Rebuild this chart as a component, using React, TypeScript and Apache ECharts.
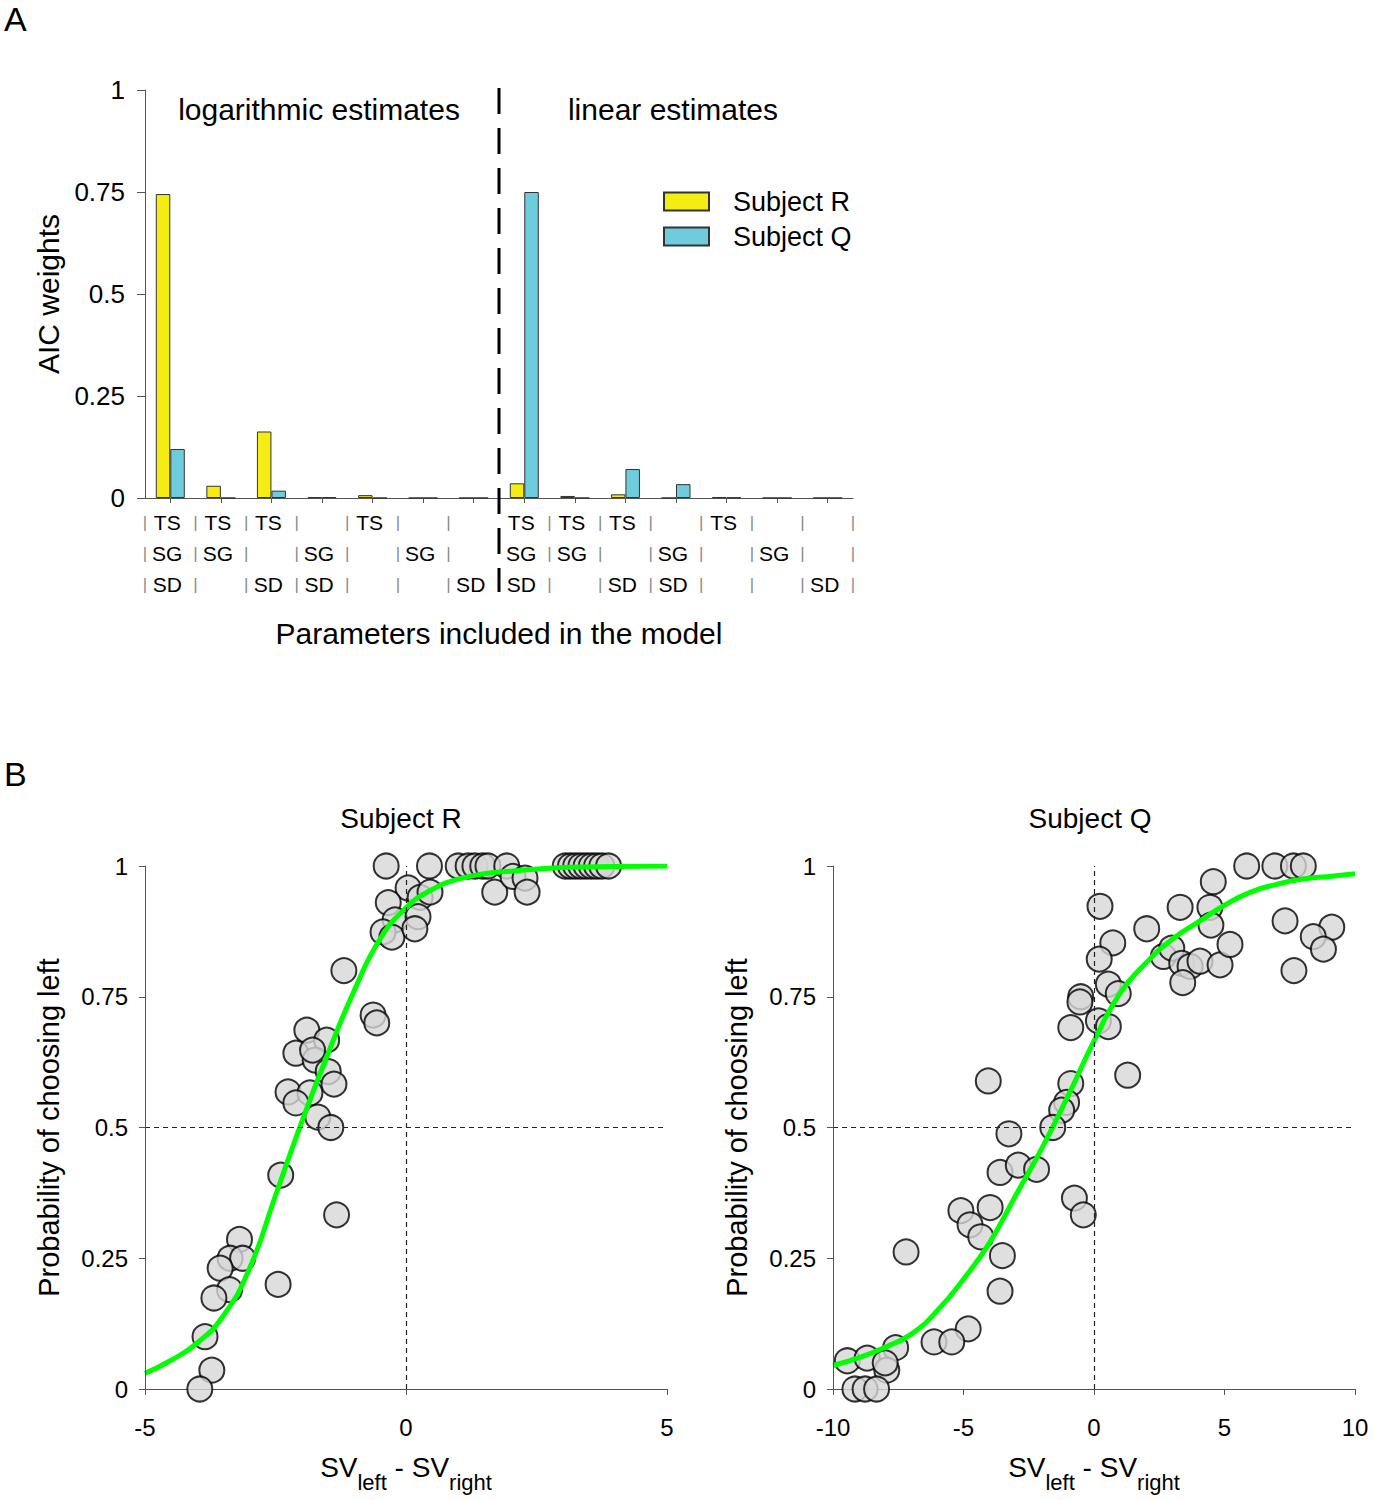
import React, { useEffect, useRef } from "react";
import * as echarts from "echarts";

const FONT = '"Liberation Sans", Arial, Helvetica, sans-serif';
const AX = "#555555";

// Panel A: models (parameters included), AIC weights
const modelParams: string[][] = [
  ["TS", "SG", "SD"],
  ["TS", "SG"],
  ["TS", "SD"],
  ["SG", "SD"],
  ["TS"],
  ["SG"],
  ["SD"],
];
const categories = [
  ...modelParams.map((m) => "log " + m.join(" ")),
  ...modelParams.map((m) => "lin " + m.join(" ")),
];
const categoryParams = [...modelParams, ...modelParams];
const aicSubjectR = [0.745, 0.03, 0.163, 0.002, 0.007, 0, 0, 0.036, 0.005, 0.009, 0, 0.002, 0, 0];
const aicSubjectQ = [0.12, 0, 0.018, 0.002, 0, 0, 0, 0.75, 0, 0.071, 0.034, 0.001, 0, 0];
const paramRows = ["TS", "SG", "SD"];
const yTicksA = [0, 0.25, 0.5, 0.75, 1];

// Panel B: Subject R (x: SVleft - SVright, y: probability of choosing left)
const pointsR: [number, number][] = [
  [-0.38, 1.0], [0.45, 1.0], [1.0, 1.0], [1.19, 1.0], [1.32, 1.0], [1.47, 1.0], [1.57, 1.0], [1.93, 1.0],
  [1.7, 0.95], [2.05, 0.98], [2.28, 0.977], [2.32, 0.95],
  [3.05, 1], [3.15, 1], [3.25, 1], [3.35, 1], [3.45, 1], [3.55, 1], [3.65, 1], [3.75, 1], [3.88, 1],
  [0.04, 0.958], [0.27, 0.94], [0.46, 0.95], [-0.34, 0.93], [-0.21, 0.897], [0.23, 0.903],
  [-0.44, 0.874], [-0.27, 0.864], [0.17, 0.88],
  [-1.19, 0.8], [-0.63, 0.715], [-0.56, 0.7], [-1.9, 0.686], [-1.52, 0.667], [-2.11, 0.642],
  [-1.74, 0.629], [-1.79, 0.648], [-1.49, 0.607], [-1.38, 0.583], [-2.26, 0.568], [-1.84, 0.566],
  [-2.11, 0.547], [-1.69, 0.52], [-1.44, 0.5],
  [-2.4, 0.409], [-1.33, 0.333], [-3.19, 0.286], [-3.37, 0.25], [-3.13, 0.25], [-3.56, 0.231],
  [-3.38, 0.19], [-3.68, 0.174], [-2.45, 0.2], [-3.85, 0.1], [-3.72, 0.036], [-3.95, 0.0],
];
const curveRx = [-5, -4.5, -4, -3.5, -3, -2.5, -2, -1.5, -1, -0.5, 0, 0.5, 1, 1.5, 2, 3, 4, 5];
const curveRy = [0.03, 0.055, 0.088, 0.14, 0.23, 0.37, 0.51, 0.64, 0.76, 0.86, 0.92, 0.955, 0.975, 0.985, 0.99, 0.997, 0.999, 1.0];

// Panel B: Subject Q
const pointsQ: [number, number][] = [
  [5.85, 1], [6.93, 1], [7.64, 1], [8.02, 1], [4.57, 0.97], [0.23, 0.923], [3.3, 0.921], [4.44, 0.921],
  [4.48, 0.887], [7.32, 0.895], [2.02, 0.88], [9.11, 0.883], [8.4, 0.865], [8.79, 0.841], [7.66, 0.8],
  [0.72, 0.853], [0.2, 0.822], [2.66, 0.827], [2.98, 0.843], [3.36, 0.814], [3.68, 0.808], [4.06, 0.818],
  [3.4, 0.777], [4.83, 0.811], [5.21, 0.85], [0.55, 0.774], [0.93, 0.756], [-0.51, 0.75], [-0.54, 0.74],
  [0.17, 0.704], [0.55, 0.693], [-0.89, 0.691], [1.29, 0.6], [-4.05, 0.589], [-0.89, 0.584],
  [-1.05, 0.548], [-1.24, 0.533], [-1.58, 0.5], [-3.26, 0.488], [-3.6, 0.414], [-2.9, 0.428],
  [-2.2, 0.42], [-0.75, 0.365], [-0.41, 0.333], [-5.1, 0.341], [-3.98, 0.347], [-4.75, 0.314],
  [-4.34, 0.291], [-7.2, 0.262], [-3.51, 0.255], [-3.6, 0.187], [-4.82, 0.115], [-6.13, 0.09],
  [-5.45, 0.09], [-7.6, 0.079], [-9.45, 0.054], [-8.69, 0.059], [-7.94, 0.036], [-8.0, 0.05],
  [-9.16, 0], [-8.77, 0], [-8.33, 0],
];
const curveQx = [-10, -9, -8, -7, -6, -5, -4, -3, -2, -1, 0, 1, 2, 3, 4, 5, 6, 7, 8, 9, 10];
const curveQy = [0.045, 0.06, 0.08, 0.105, 0.15, 0.21, 0.28, 0.37, 0.46, 0.56, 0.665, 0.757, 0.815, 0.86, 0.893, 0.925, 0.95, 0.965, 0.975, 0.98, 0.985];

const YELLOW = "#F5EC13";
const BLUE = "#6ECCDD";
const GREEN = "#00FF00";

function zip(xs: number[], ys: number[]) {
  return xs.map((x, i) => [x, ys[i]]);
}

export default function App() {
  const ref = useRef<HTMLDivElement>(null);

  useEffect(() => {
    document.body.style.margin = "0";
    const chart = echarts.init(ref.current!, undefined, { renderer: "svg" });

    const boundaries = Array.from({ length: categories.length + 1 }, (_, i) => "b" + i);

    const probYAxis = (gridIndex: number) => ({
      type: "value",
      gridIndex,
      min: 0,
      max: 1,
      interval: 0.25,
      axisLine: { show: true, onZero: false, lineStyle: { color: AX, width: 1 } },
      axisTick: { show: true, length: 6, lineStyle: { color: AX } },
      splitLine: { show: false },
      axisLabel: { fontSize: 24, color: "#000", margin: 17, fontFamily: FONT },
      name: "Probability of choosing left",
      nameLocation: "middle",
      nameGap: 82,
      nameTextStyle: { fontSize: 29, color: "#000", fontFamily: FONT },
    });

    const svXAxis = (gridIndex: number, min: number, max: number) => ({
      type: "value",
      gridIndex,
      min,
      max,
      interval: 5,
      axisLine: { show: true, onZero: false, lineStyle: { color: AX, width: 1 } },
      axisTick: { show: true, length: 6, lineStyle: { color: AX } },
      splitLine: { show: false },
      axisLabel: { fontSize: 24, color: "#000", margin: 26, fontFamily: FONT },
      name: "{m|SV}{s|left}{m| - SV}{s|right}",
      nameLocation: "middle",
      nameGap: 52,
      nameTextStyle: {
        color: "#000",
        fontFamily: FONT,
        rich: {
          m: { fontSize: 28, color: "#000", fontFamily: FONT },
          s: { fontSize: 22, color: "#000", fontFamily: FONT, padding: [30, 0, 0, 0] },
        },
      },
    });

    // dashed reference lines at x = 0 and y = 0.5, plus the left axis line at x = xMin
    const refLines = (xi: number, yi: number, xMin: number) => ({
      type: "line",
      xAxisIndex: xi,
      yAxisIndex: yi,
      data: [],
      z: 1,
      silent: true,
      markLine: {
        silent: true,
        symbol: ["none", "none"],
        label: { show: false },
        lineStyle: { type: [5, 4], color: "#222", width: 1.2 },
        data: [
          { xAxis: 0 },
          { yAxis: 0.5 },
          { xAxis: xMin, lineStyle: { type: "solid", color: AX, width: 1 } },
        ],
      },
    });

    const scatter = (name: string, xi: number, yi: number, data: [number, number][]) => ({
      type: "scatter",
      name,
      xAxisIndex: xi,
      yAxisIndex: yi,
      data,
      symbol: "circle",
      symbolSize: 25,
      z: 3,
      itemStyle: { color: "#D7D7D7", borderColor: "#000", borderWidth: 2 },
    });

    const curve = (name: string, xi: number, yi: number, data: number[][]) => ({
      type: "line",
      name,
      xAxisIndex: xi,
      yAxisIndex: yi,
      data,
      smooth: true,
      showSymbol: false,
      z: 4,
      lineStyle: { color: GREEN, width: 5 },
      itemStyle: { color: GREEN },
    });

    const option: any = {
      animation: false,
      backgroundColor: "#ffffff",
      textStyle: { fontFamily: FONT },
      grid: [
        { left: 145, top: 90, width: 708, height: 408 },
        { left: 145, top: 866, width: 522, height: 523 },
        { left: 833, top: 866, width: 522, height: 523 },
      ],
      legend: {
        data: ["Subject R", "Subject Q"],
        orient: "vertical",
        left: 663,
        top: 188,
        padding: 0,
        itemWidth: 45,
        itemHeight: 18,
        itemGap: 8,
        icon: "rect",
        textStyle: { fontSize: 27, color: "#000", fontFamily: FONT, padding: [0, 0, 0, 19] },
      },
      xAxis: [
        {
          type: "category",
          gridIndex: 0,
          data: categories,
          boundaryGap: true,
          axisLine: { show: true, lineStyle: { color: AX, width: 1 } },
          axisTick: { show: true, alignWithLabel: true, length: 5, lineStyle: { color: AX } },
          axisLabel: {
            interval: 0,
            margin: 9,
            formatter: (_v: string, idx: number) =>
              paramRows
                .map((p) => (categoryParams[idx].includes(p) ? `{t|${p}}` : "{t|\u00a0}"))
                .join("\n"),
            rich: {
              t: { fontSize: 21, lineHeight: 31, color: "#000", fontFamily: FONT, padding: [0, 6, 0, 0] },
            },
          },
          name: "Parameters included in the model",
          nameLocation: "middle",
          nameGap: 120,
          nameTextStyle: { fontSize: 30, color: "#000", fontFamily: FONT },
        },
        {
          type: "category",
          gridIndex: 0,
          data: boundaries,
          boundaryGap: false,
          position: "bottom",
          axisLine: { show: false },
          axisTick: { show: false },
          axisLabel: {
            interval: 0,
            margin: 9,
            formatter: (_v: string, idx: number) => {
              const k = idx === modelParams.length ? "h" : "p";
              return [0, 1, 2].map(() => `{${k}||}`).join("\n");
            },
            rich: {
              p: { fontSize: 17, lineHeight: 31, color: "#8a8a8a", fontFamily: FONT },
              h: { fontSize: 17, lineHeight: 31, color: "rgba(0,0,0,0)", fontFamily: FONT },
            },
          },
        },
        svXAxis(1, -5, 5),
        svXAxis(2, -10, 10),
      ],
      yAxis: [
        {
          type: "value",
          gridIndex: 0,
          min: 0,
          max: 1,
          interval: 0.25,
          axisLine: { show: true, onZero: false, lineStyle: { color: AX, width: 1 } },
          axisTick: { show: true, length: 8, lineStyle: { color: AX } },
          splitLine: { show: false },
          axisLabel: {
            fontSize: 26,
            color: "#000",
            margin: 20,
            fontFamily: FONT,
            formatter: (v: number) => (yTicksA.includes(v) ? String(v) : ""),
          },
          name: "AIC weights",
          nameLocation: "middle",
          nameGap: 82,
          nameTextStyle: { fontSize: 30, color: "#000", fontFamily: FONT },
        },
        probYAxis(1),
        probYAxis(2),
      ],
      series: [
        {
          type: "bar",
          name: "Subject R",
          xAxisIndex: 0,
          yAxisIndex: 0,
          data: aicSubjectR,
          barWidth: 14.5,
          barGap: "0%",
          itemStyle: { color: YELLOW, borderColor: "#333", borderWidth: 1 },
        },
        {
          type: "bar",
          name: "Subject Q",
          xAxisIndex: 0,
          yAxisIndex: 0,
          data: aicSubjectQ,
          barWidth: 14.5,
          barGap: "0%",
          itemStyle: { color: BLUE, borderColor: "#333", borderWidth: 1 },
        },
        refLines(2, 1, -5),
        scatter("Subject R data", 2, 1, pointsR),
        curve("Subject R fit", 2, 1, zip(curveRx, curveRy)),
        refLines(3, 2, -10),
        scatter("Subject Q data", 3, 2, pointsQ),
        curve("Subject Q fit", 3, 2, zip(curveQx, curveQy)),
      ],
    };

    chart.setOption(option);

    const divX = chart.convertToPixel({ xAxisIndex: 1 }, boundaries[modelParams.length]) as number;
    const yTop = chart.convertToPixel({ yAxisIndex: 0 }, 1) as number;
    const yBottom = (chart.convertToPixel({ yAxisIndex: 0 }, 0) as number) + 94;

    const txt = (text: string, x: number, y: number, fontSize: number, align = "center") => ({
      type: "text",
      x,
      y,
      silent: true,
      style: {
        text,
        fontSize,
        fontFamily: FONT,
        fill: "#000",
        align,
        verticalAlign: "middle",
      },
    });

    chart.setOption({
      graphic: [
        txt("A", 4, 19, 34, "left"),
        txt("B", 4, 774, 34, "left"),
        txt("logarithmic estimates", 319, 109, 30),
        txt("linear estimates", 673, 109, 30),
        txt("Subject R", 401, 818, 28),
        txt("Subject Q", 1090, 818, 28),
        {
          type: "line",
          silent: true,
          z: 10,
          shape: { x1: divX, y1: yTop - 2, x2: divX, y2: yBottom },
          style: { stroke: "#000", lineWidth: 3, lineDash: [26, 14] },
        },
      ],
    });

    return () => chart.dispose();
  }, []);

  return <div ref={ref} style={{ width: 1374, height: 1500 }} />;
}
